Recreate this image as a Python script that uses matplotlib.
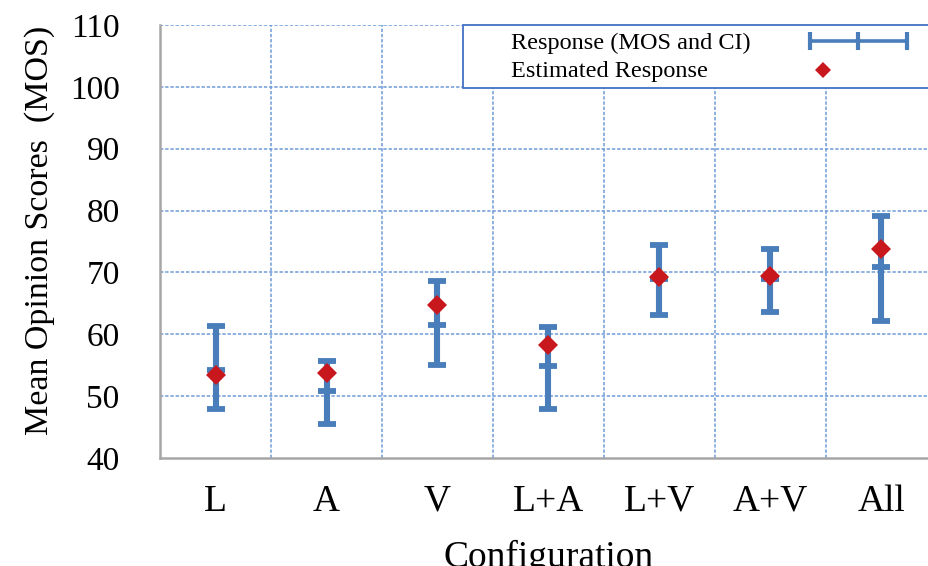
import matplotlib
matplotlib.use("Agg")
import matplotlib.pyplot as plt
from matplotlib.lines import Line2D
from matplotlib.legend_handler import HandlerLine2D
from matplotlib.patches import Rectangle
import numpy as np

plt.rcParams['font.family'] = ['Liberation Serif', 'DejaVu Serif']

# Configurations and their subjective scores
configs = ["L", "A", "V", "L+A", "L+V", "A+V", "All"]
mos = [54.2, 50.9, 61.5, 54.8, 68.9, 68.9, 70.9]
ci_low = [47.9, 45.5, 55.0, 48.0, 63.1, 63.6, 62.2]
ci_high = [61.4, 55.7, 68.6, 61.1, 74.5, 73.8, 79.1]
estimated = [53.4, 53.7, 64.8, 58.3, 69.2, 69.4, 73.8]
yticks = [40, 50, 60, 70, 80, 90, 100, 110]
legend_labels = ["Response (MOS and CI)", "Estimated Response"]

W, H = 929, 566
fig = plt.figure(figsize=(W / 100, H / 100), dpi=100)
left, right, top, bottom = 160, 937, 25, 458
ax = fig.add_axes([left / W, 1 - bottom / H, (right - left) / W, (bottom - top) / H])

blue = "#4A7EBB"
red = "#C8181E"
grid_c = "#6F9BD8"

x = np.arange(len(configs))
mos_a = np.array(mos)
lo = mos_a - np.array(ci_low)
hi = np.array(ci_high) - mos_a

ax.errorbar(x, mos, yerr=[lo, hi], fmt="none", ecolor=blue, elinewidth=4.4,
            capsize=6.5, capthick=4.2, zorder=3)
ax.plot(x, mos, linestyle="none", marker="_", markersize=13.5, markeredgewidth=4.2,
        color=blue, zorder=3)
ax.plot(x, estimated, linestyle="none", marker="D", markersize=10, color=red,
        markeredgewidth=0, zorder=4)

ax.set_xlim(-0.5, len(configs) - 0.5)
ax.set_ylim(40, 110)
ax.set_yticks(yticks)
ax.set_xticks(x)
ax.set_xticklabels(configs)

# dotted grid: horizontal at value ticks, vertical between categories
dash = (0, (2.2, 1.2))
for yv in yticks[1:]:
    ax.axhline(yv, color=grid_c, lw=1.1, linestyle=dash, zorder=1)
for xv in np.arange(0.5, len(configs) - 0.5, 1):
    ax.axvline(xv, color=grid_c, lw=1.1, linestyle=dash, zorder=1)

ax.tick_params(axis="both", which="both", length=0)
ax.tick_params(axis="y", labelsize=24, pad=29)
ax.tick_params(axis="x", labelsize=27, pad=19)
for s in ["top", "right"]:
    ax.spines[s].set_visible(False)
for s in ["left", "bottom"]:
    ax.spines[s].set_color("#A6A6A6")
    ax.spines[s].set_linewidth(1.8)

ax.set_ylabel("Mean Opinion Scores  (MOS)", fontsize=24.5)
ax.yaxis.set_label_coords(-(left - 55) / (right - left), (bottom - 230) / (bottom - top))
ax.set_xlabel("Configuration", fontsize=27)
ax.xaxis.set_label_coords(0.5, -(540 - bottom) / (bottom - top))

# legend box
frame = Rectangle((463 / W, 1 - 88 / H), (945 - 463) / W, (88 - 25) / H,
                  transform=fig.transFigure, facecolor="white", edgecolor="#4472C4",
                  linewidth=1.3, zorder=5)
fig.patches.append(frame)

leg_fs = 17.5
px_per_em = leg_fs * 100 / 72
h1 = Line2D([], [], color=blue, lw=2.6, marker="|", markersize=13, markeredgewidth=3.0)
h2 = Line2D([], [], color=red, linestyle="none", marker="D", markersize=8.5,
            markeredgewidth=0)
row_y = [43, 72]
handle_x = [810, 810]
handle_len = [97, 26]
handlers = [HandlerLine2D(numpoints=3, marker_pad=0.0), HandlerLine2D(numpoints=1)]
for h, lab, ry, hx, hl, hd in zip([h1, h2], legend_labels, row_y, handle_x,
                                  handle_len, handlers):
    fig.text(511 / W, 1 - ry / H, lab, fontsize=leg_fs, ha="left", va="center",
             zorder=7)
    lg = fig.legend([h], [""], loc="center left", bbox_to_anchor=(hx / W, 1 - ry / H),
                    frameon=False, fontsize=leg_fs, handlelength=hl / px_per_em,
                    handletextpad=0.0, borderpad=0.0, borderaxespad=0.0,
                    handler_map={h: hd})
    lg.set_zorder(7)

fig.savefig("out.png", dpi=100)
